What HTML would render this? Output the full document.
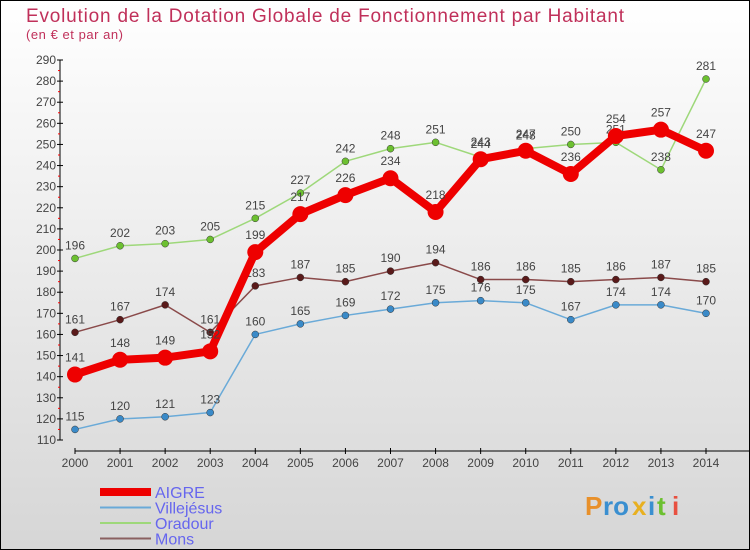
<!DOCTYPE html>
<html><head><meta charset="utf-8"><style>
body{margin:0;width:750px;height:550px;overflow:hidden}
svg{display:block;font-family:"Liberation Sans",sans-serif}
</style></head><body>
<svg id="chart" width="750" height="550">
<defs><linearGradient id="bg" x1="0" y1="0" x2="0" y2="1"><stop offset="0" stop-color="#ffffff"/><stop offset="1" stop-color="#d6d6d6"/></linearGradient></defs>
<rect x="0.5" y="0.5" width="749" height="549" fill="url(#bg)" stroke="#000"/>
<text x="26" y="22" font-size="19" fill="#c0305a" textLength="598" lengthAdjust="spacing">Evolution de la Dotation Globale de Fonctionnement par Habitant</text>
<text x="26" y="39" font-size="13" fill="#c0305a" textLength="97" lengthAdjust="spacing">(en € et par an)</text>
<g id="axes"></g>
<g id="series"></g>
<g id="legend"></g>
<g font-size="26" font-weight="bold">
<text x="585" y="515" fill="#e8902a">P</text><text x="603" y="515" fill="#3a8fd0">ro</text><text x="632" y="515" fill="#e8b020">x</text><text x="648" y="515" fill="#3a8fd0">i</text><text x="657" y="515" fill="#6cc030">t</text><text x="672" y="515" fill="#e85040">i</text>
</g>
</svg>
<script>
const years=[2000,2001,2002,2003,2004,2005,2006,2007,2008,2009,2010,2011,2012,2013,2014];
const aigre=[141,148,149,152,199,217,226,234,218,243,247,236,254,257,247];
const villejesus=[115,120,121,123,160,165,169,172,175,176,175,167,174,174,170];
const oradour=[196,202,203,205,215,227,242,248,251,244,248,250,251,238,281];
const mons=[161,167,174,161,183,187,185,190,194,186,186,185,186,187,185];
const yTicks=[110,120,130,140,150,160,170,180,190,200,210,220,230,240,250,260,270,280,290];
const NS="http://www.w3.org/2000/svg";
const X=i=>75+i*(706-75)/(years.length-1);
const Y=v=>440-(v-110)*(380/180);
function mk(tag,attrs,parent,txt){const e=document.createElementNS(NS,tag);for(const k in attrs)e.setAttribute(k,attrs[k]);if(txt!==undefined)e.textContent=txt;parent.appendChild(e);return e;}
const axes=document.getElementById('axes');
let a=mk('line',{x1:60,y1:Y(290),x2:60,y2:Y(110),stroke:'#000'},axes);


a=mk('line',{x1:75,y1:451,x2:750,y2:451,stroke:'#000'},axes);


yTicks.forEach((t,i)=>{
 mk('line',{x1:57,y1:Y(t),x2:63,y2:Y(t),stroke:'#000'},axes);
 if(i<yTicks.length-1) mk('line',{x1:58,y1:Y(t+5),x2:60,y2:Y(t+5),stroke:'#f00'},axes);
 const l=mk('text',{x:56,y:Y(t)+4,'font-size':12,fill:'#444','text-anchor':'end'},axes,t);
 
 
});
years.forEach((y,i)=>{
 mk('line',{x1:X(i),y1:448,x2:X(i),y2:454,stroke:'#000'},axes);
 const l=mk('text',{x:X(i),y:467,'font-size':12,fill:'#444','text-anchor':'middle'},axes,y);
 
 
});
const sg=document.getElementById('series');
const defs=[
 {n:'villejesus',d:villejesus,c:'#6aaad8',dot:'#3a8ac8',w:1.5,r:3.5},
 {n:'mons',d:mons,c:'#8a4a4a',dot:'#5a1a1a',w:1.5,r:3.5},
 {n:'oradour',d:oradour,c:'#9ed87a',dot:'#6cc030',w:1.5,r:3.5},
 {n:'aigre',d:aigre,c:'#ee0000',dot:'#ee0000',w:8,r:8}
];
defs.forEach(s=>{
 const g=mk('g',{},sg);
 
 
 const p=mk('polyline',{points:s.d.map((v,i)=>X(i)+','+Y(v)).join(' '),fill:'none',stroke:s.c,'stroke-width':s.w,'stroke-linejoin':'round'},g);
 
 
 s.d.forEach((v,i)=>{
  const c=mk('circle',{cx:X(i),cy:Y(v),r:s.r,fill:s.dot,stroke:s.n==='aigre'?'none':'#333','stroke-width':0.5},g);
  
  
  const t=mk('text',{x:X(i),y:Y(v)-(s.n==='aigre'?13:9),'font-size':12,fill:'#444','text-anchor':'middle'},g,v);
  
  
 });
});
const lg=document.getElementById('legend');
[['AIGRE','#ee0000',8],['Villejésus','#6aaad8',2],['Oradour','#9ed87a',2],['Mons','#8a6060',2]].forEach((e,i)=>{
 const g=mk('g',{},lg);
 
 
 const y=492+i*15.5;
 mk('line',{x1:100,y1:y,x2:151,y2:y,stroke:e[1],'stroke-width':e[2]},g);
 mk('text',{x:155,y:y+6,'font-size':16,fill:'#6666ee'},g,e[0]);
});
</script>
</body></html>
